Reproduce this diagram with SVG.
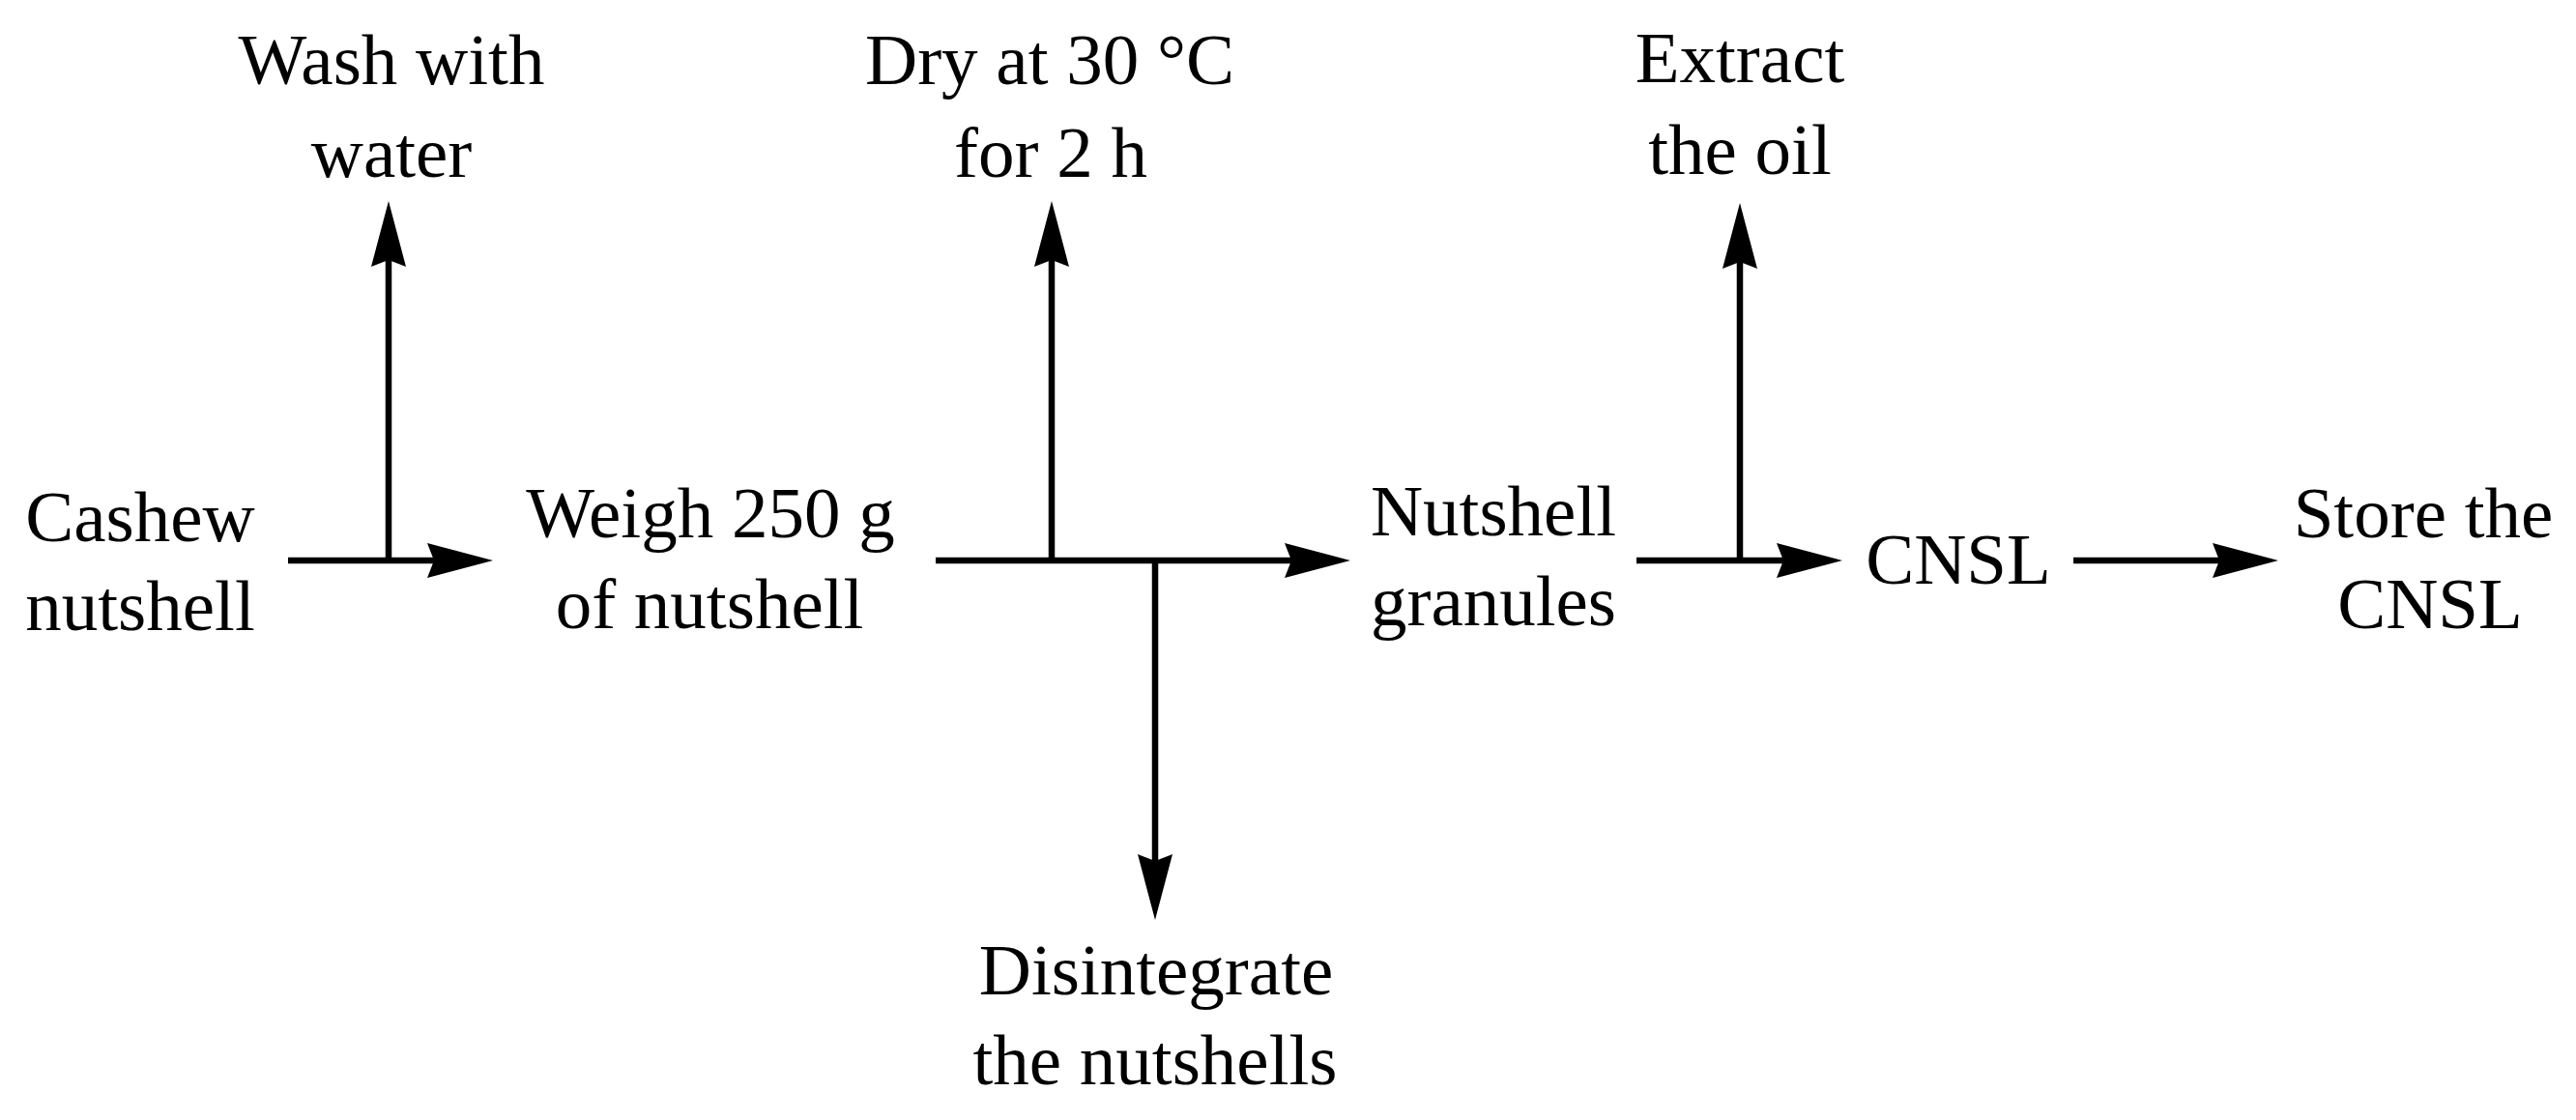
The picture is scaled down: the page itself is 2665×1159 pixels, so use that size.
<svg xmlns="http://www.w3.org/2000/svg" width="2665" height="1159" viewBox="0 0 2665 1159">
<defs>
<style>
text{font-family:"Liberation Serif","Times New Roman",serif;font-size:75px;fill:#000;text-anchor:middle}
.c{stroke:#000;stroke-width:6.5;fill:none;marker-end:url(#ah)}
.p{stroke:#000;stroke-width:6.5;fill:none}
</style>
<marker id="ah" markerUnits="userSpaceOnUse" viewBox="0 -20 68 40" markerWidth="68" markerHeight="40" refX="38" refY="0" orient="auto" overflow="visible">
<path d="M0,-18 L68,0 L0,18 L7,0 Z" fill="#000"/>
</marker>
</defs>
<rect width="2665" height="1159" fill="#fff"/>
<g id="connectors">
<line class="c" x1="298" y1="580" x2="480" y2="580"/>
<line class="c" x1="402" y1="580" x2="402" y2="238"/>
<line class="c" x1="968" y1="580" x2="1367" y2="580"/>
<line class="c" x1="1088" y1="580" x2="1088" y2="238"/>
<line class="c" x1="1195" y1="580" x2="1195" y2="922"/>
<line class="c" x1="1693" y1="580" x2="1876" y2="580"/>
<line class="c" x1="1800" y1="580" x2="1800" y2="240"/>
<line class="c" x1="2145" y1="580" x2="2327" y2="580"/>
</g>
<g id="n-cashew"><text x="145" y="560">Cashew</text><text x="145" y="652">nutshell</text></g>
<g id="n-wash"><text x="405" y="87">Wash with</text><text x="405" y="183">water</text></g>
<g id="n-weigh"><text x="735" y="556">Weigh 250 g</text><text x="734" y="650">of nutshell</text></g>
<g id="n-dry"><text x="1086" y="87">Dry at 30 °C</text><text x="1087" y="183">for 2 h</text></g>
<g id="n-disintegrate"><text x="1196" y="1029">Disintegrate</text><text x="1195" y="1122">the nutshells</text></g>
<g id="n-granules"><text x="1545" y="554">Nutshell</text><text x="1545" y="647">granules</text></g>
<g id="n-extract"><text x="1800" y="85">Extract</text><text x="1800" y="180">the oil</text></g>
<g id="n-cnsl"><text x="2026" y="604">CNSL</text></g>
<g id="n-store"><text x="2507" y="556">Store the</text><text x="2514" y="650">CNSL</text></g>
</svg>
